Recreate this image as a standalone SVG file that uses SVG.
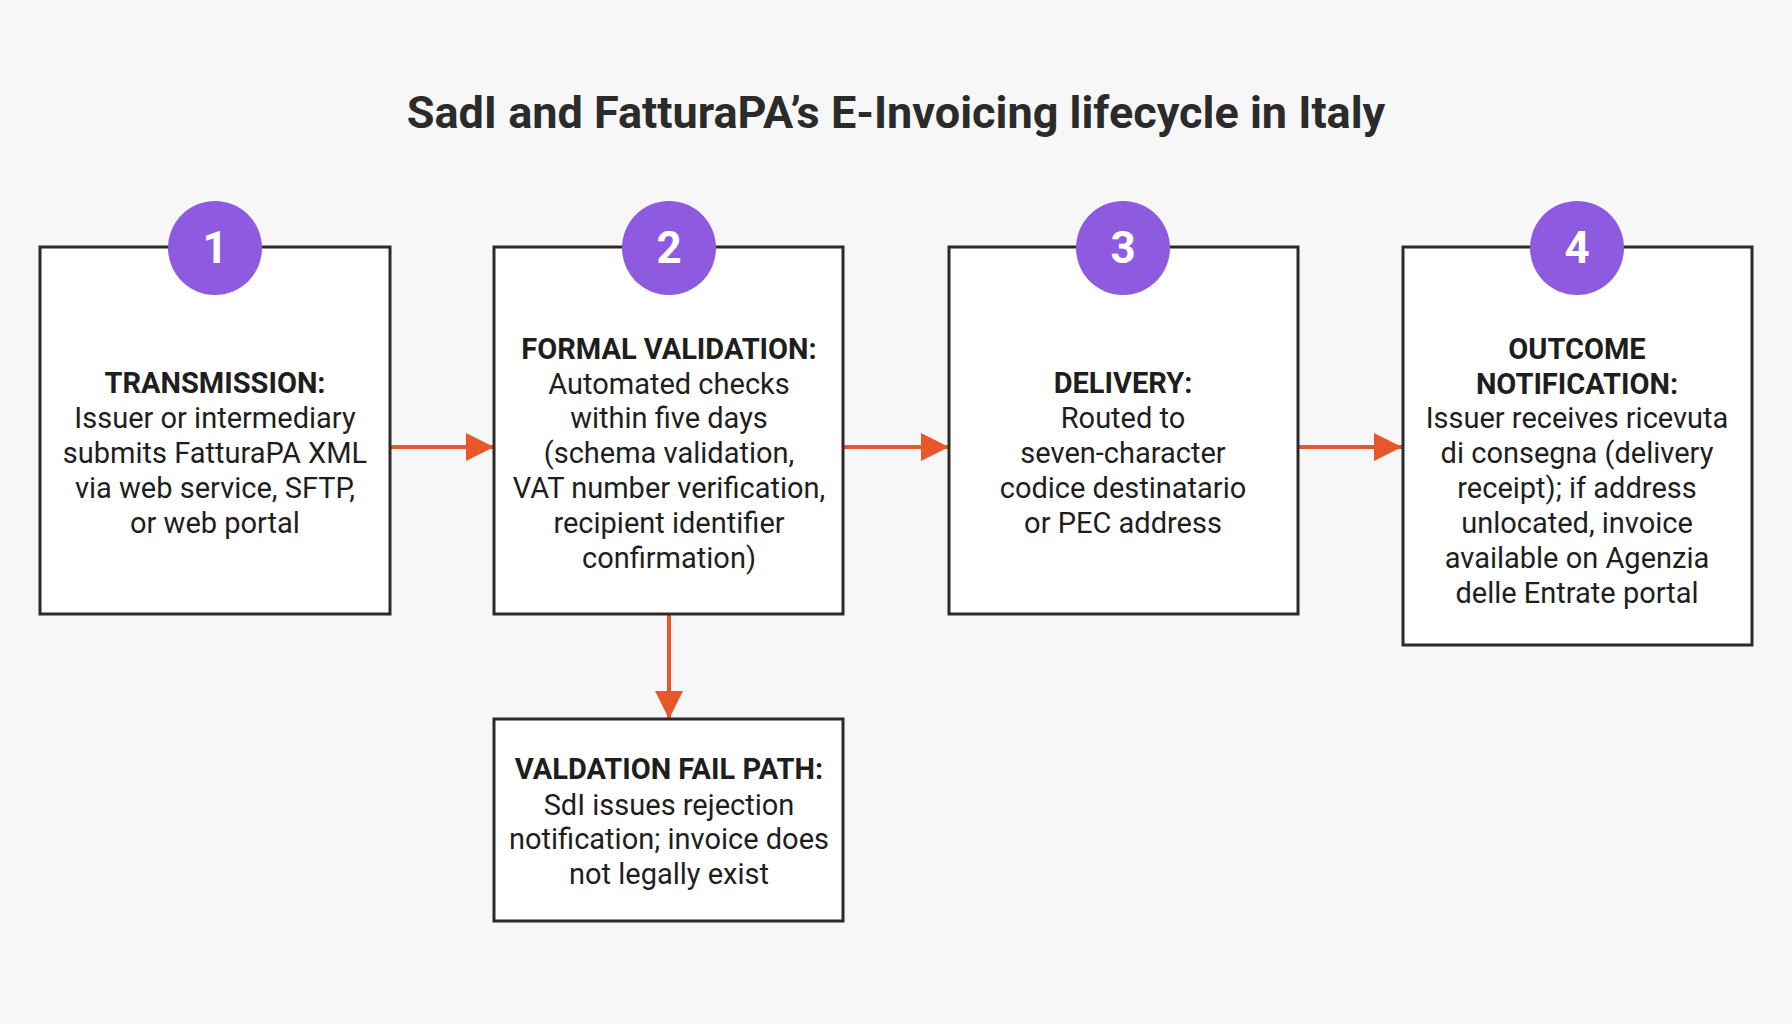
<svg xmlns="http://www.w3.org/2000/svg" width="1792" height="1024" viewBox="0 0 1792 1024">
<style>
.box{fill:#fff;stroke:#2b2b2b;stroke-width:3}
.c{fill:#8e5be0}
.n{font-family:Roboto,"Liberation Sans",sans-serif;font-size:44px;font-weight:bold;fill:#fff;text-anchor:middle;dominant-baseline:central}
.t{font-family:Roboto,"Liberation Sans",sans-serif;font-size:29px;fill:#1e1e1e;text-anchor:middle;dominant-baseline:central}
.h{font-weight:bold}
.a{stroke:#e8572a;stroke-width:4;fill:none}
</style>
<defs>
<marker id="ah2" viewBox="0 0 10 10" refX="10" refY="5" markerWidth="28" markerHeight="28" orient="auto" markerUnits="userSpaceOnUse"><path d="M0,0L10,5L0,10z" fill="#e8572a"/></marker></defs>
<rect width="1792" height="1024" fill="#f7f7f7"/>
<text x="896" y="112" font-family="Roboto,'Liberation Sans',sans-serif" font-size="45" font-weight="bold" fill="#2b2b2b" text-anchor="middle" dominant-baseline="central">SadI and FatturaPA’s E-Invoicing lifecycle in Italy</text>
<g id="connectors">
<line class="a" x1="390" y1="447" x2="494" y2="447" marker-end="url(#ah2)"/>
<line class="a" x1="843" y1="447" x2="949" y2="447" marker-end="url(#ah2)"/>
<line class="a" x1="1298" y1="447" x2="1402" y2="447" marker-end="url(#ah2)"/>
<line class="a" x1="669" y1="614" x2="669" y2="719" marker-end="url(#ah2)"/>
</g>
<g id="node1"><rect class="box" x="40" y="247" width="350" height="367"/><circle class="c" cx="215" cy="248" r="47"/><text class="n" x="215" y="248">1</text>
<text class="t h" x="215" y="383">TRANSMISSION:</text><text class="t" x="215" y="418">Issuer or intermediary</text><text class="t" x="215" y="453">submits FatturaPA XML</text><text class="t" x="215" y="488">via web service, SFTP,</text><text class="t" x="215" y="523">or web portal</text></g>
<g id="node2"><rect class="box" x="494" y="247" width="349" height="367"/><circle class="c" cx="669" cy="248" r="47"/><text class="n" x="669" y="248">2</text>
<text class="t h" x="669" y="349">FORMAL VALIDATION:</text><text class="t" x="669" y="384">Automated checks</text><text class="t" x="669" y="418">within five days</text><text class="t" x="669" y="453">(schema validation,</text><text class="t" x="669" y="488">VAT number verification,</text><text class="t" x="669" y="523">recipient identifier</text><text class="t" x="669" y="558">confirmation)</text></g>
<g id="node3"><rect class="box" x="949" y="247" width="349" height="367"/><circle class="c" cx="1123" cy="248" r="47"/><text class="n" x="1123" y="248">3</text>
<text class="t h" x="1123" y="383">DELIVERY:</text><text class="t" x="1123" y="418">Routed to</text><text class="t" x="1123" y="453">seven-character</text><text class="t" x="1123" y="488">codice destinatario</text><text class="t" x="1123" y="523">or PEC address</text></g>
<g id="node4"><rect class="box" x="1403" y="247" width="349" height="398"/><circle class="c" cx="1577" cy="248" r="47"/><text class="n" x="1577" y="248">4</text>
<text class="t h" x="1577" y="349">OUTCOME</text><text class="t h" x="1577" y="384">NOTIFICATION:</text><text class="t" x="1577" y="418">Issuer receives ricevuta</text><text class="t" x="1577" y="453">di consegna (delivery</text><text class="t" x="1577" y="488">receipt); if address</text><text class="t" x="1577" y="523">unlocated, invoice</text><text class="t" x="1577" y="558">available on Agenzia</text><text class="t" x="1577" y="593">delle Entrate portal</text></g>
<g id="node5"><rect class="box" x="494" y="719" width="349" height="202"/>
<text class="t h" x="669" y="769">VALDATION FAIL PATH:</text><text class="t" x="669" y="805">SdI issues rejection</text><text class="t" x="669" y="839">notification; invoice does</text><text class="t" x="669" y="874">not legally exist</text></g>
</svg>
